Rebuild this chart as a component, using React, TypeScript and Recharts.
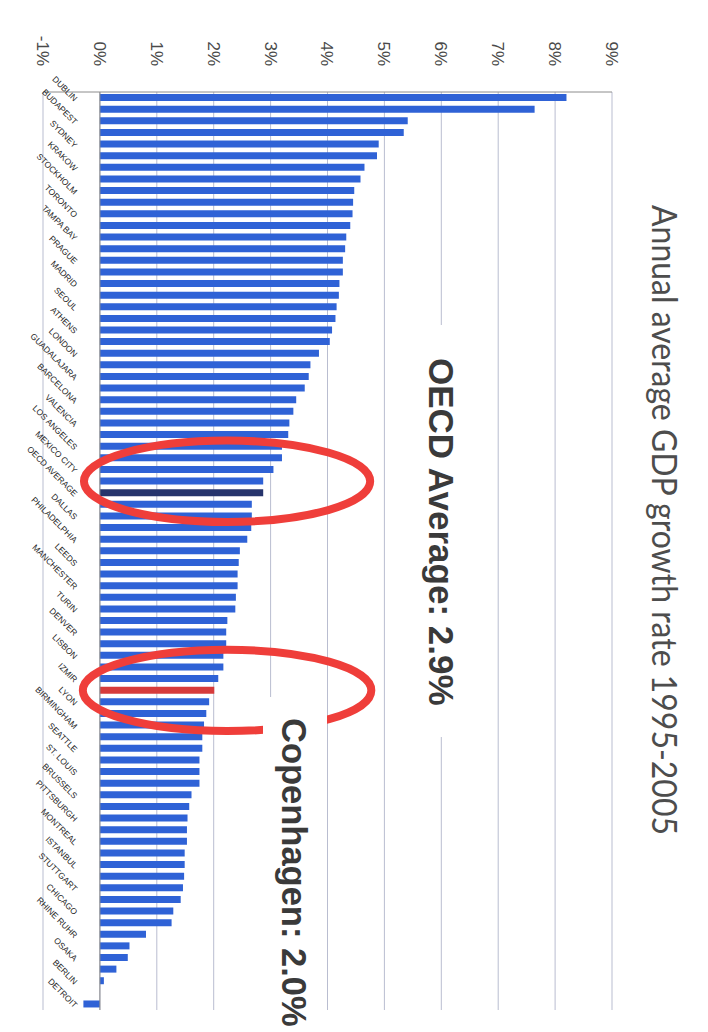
import React from "react";
import {
  BarChart,
  Bar,
  XAxis,
  YAxis,
  CartesianGrid,
  ReferenceLine,
  ReferenceArea,
  Cell,
} from "recharts";

// Tick labels shown on every other bar (as in the source chart)
const cityLabels = [
  "DUBLIN", "BUDAPEST", "SYDNEY", "KRAKOW", "STOCKHOLM", "TORONTO", "TAMPA BAY", "PRAGUE",
  "MADRID", "SEOUL", "ATHENS", "LONDON", "GUADALAJARA", "BARCELONA", "VALENCIA", "LOS ANGELES",
  "MEXICO CITY", "OECD AVERAGE", "DALLAS", "PHILADELPHIA", "LEEDS", "MANCHESTER", "TURIN", "DENVER",
  "LISBON", "IZMIR", "LYON", "BIRMINGHAM", "SEATTLE", "ST. LOUIS", "BRUSSELS", "PITTSBURGH",
  "MONTREAL", "ISTANBUL", "STUTTGART", "CHICAGO", "RHINE RUHR", "OSAKA", "BERLIN", "DETROIT",
];

// Annual average GDP growth rate 1995-2005 (%), one value per bar, in order
const growthRates = [
  8.2, 7.64, 5.41, 5.34, 4.9, 4.87, 4.65, 4.58, 4.47, 4.45,
  4.44, 4.4, 4.33, 4.31, 4.27, 4.27, 4.21, 4.2, 4.16, 4.14,
  4.08, 4.04, 3.85, 3.7, 3.67, 3.6, 3.45, 3.4, 3.33, 3.31,
  3.2, 3.2, 3.05, 2.87, 2.87, 2.67, 2.67, 2.66, 2.59, 2.46,
  2.44, 2.42, 2.42, 2.39, 2.38, 2.24, 2.22, 2.22, 2.17, 2.17,
  2.08, 2.01, 1.92, 1.87, 1.83, 1.8, 1.8, 1.75, 1.75, 1.75,
  1.61, 1.57, 1.54, 1.53, 1.53, 1.49, 1.49, 1.48, 1.46, 1.42,
  1.29, 1.26, 0.81, 0.52, 0.49, 0.29, 0.07, 0.0, -0.29,
];

const valueTicks = [-1, 0, 1, 2, 3, 4, 5, 6, 7, 8, 9];
const OECD_INDEX = 34;
const COPENHAGEN_INDEX = 51;

const titleText = "Annual average GDP growth rate 1995-2005";
const oecdNote = "OECD Average: 2.9%";
const copenhagenNote = "Copenhagen: 2.0%";

const data = growthRates.map((v, i) => ({
  id: i,
  growth: v,
  city: i % 2 === 0 ? cityLabels[i / 2] : "",
}));

const BLUE = "#2f62d6";
const NAVY = "#26346c";
const RED = "#d63b3b";
const RING = "#ef3e3a";

const CityTick = (props: any) => {
  const { x, y, payload } = props;
  const label = data[payload.value] ? data[payload.value].city : "";
  if (!label) return null;
  const ay = y - 33;
  return (
    <text
      x={x + 2}
      y={ay}
      dy={3}
      textAnchor="end"
      transform={`rotate(-45 ${x + 2} ${ay})`}
      fontSize={8.5}
      fill="#1e1e1e"
      fontFamily="'Liberation Sans', Arial, sans-serif"
    >
      {label}
    </text>
  );
};

const ellipseShape = (p: any) => (
  <ellipse
    cx={p.x + p.width / 2}
    cy={p.y + p.height / 2}
    rx={Math.abs(p.width) / 2}
    ry={Math.abs(p.height) / 2}
    fill="none"
    stroke={RING}
    strokeWidth={8}
  />
);

export default function App() {
  return (
    <div
      style={{
        position: "fixed",
        left: 0,
        top: 0,
        width: 708,
        height: 1032,
        overflow: "hidden",
        background: "#ffffff",
      }}
    >
      <div
        style={{
          position: "absolute",
          left: 0,
          top: 0,
          width: 1032,
          height: 708,
          transformOrigin: "0 0",
          transform: "translate(708px, 0px) rotate(90deg)",
        }}
      >
        <BarChart
          width={1032}
          height={708}
          data={data}
          margin={{ top: 96, right: 22, bottom: 0, left: 0 }}
          barCategoryGap="18%"
        >
          <CartesianGrid vertical={false} stroke="#b9bdd0" strokeWidth={1} />
          <XAxis
            dataKey="id"
            type="category"
            interval={0}
            tick={<CityTick />}
            tickLine={false}
            axisLine={false}
            tickSize={0}
            tickMargin={0}
            height={43}
          />
          <YAxis
            type="number"
            domain={[-1, 9]}
            ticks={valueTicks}
            interval={0}
            tickFormatter={(v: number) => `${v}%`}
            axisLine={{ stroke: "#8c8c8c" }}
            tickLine={false}
            tickSize={0}
            tickMargin={26}
            width={92}
            tick={{
              fontSize: 17,
              fill: "#4a4a4a",
              fontFamily: "'Liberation Sans', Arial, sans-serif",
            }}
          />
          <ReferenceLine y={0} stroke="#8c8c8c" />
          <Bar dataKey="growth" isAnimationActive={false}>
            {data.map((d, i) => (
              <Cell
                key={i}
                fill={i === OECD_INDEX ? NAVY : i === COPENHAGEN_INDEX ? RED : BLUE}
              />
            ))}
          </Bar>
          <ReferenceArea
            x1={30}
            x2={36}
            y1={-0.28}
            y2={4.75}
            shape={ellipseShape}
            ifOverflow="visible"
            zIndex={600}
          />
          <ReferenceArea
            x1={48}
            x2={54}
            y1={-0.3}
            y2={4.77}
            shape={ellipseShape}
            ifOverflow="visible"
            zIndex={600}
          />
        </BarChart>
        <svg
          width={1032}
          height={708}
          style={{ position: "absolute", left: 0, top: 0, pointerEvents: "none" }}
        >
          <text
            x={205}
            y={56}
            fontSize={34}
            fill="#4d4d4d"
            fontFamily="Lato, 'Open Sans', sans-serif"
            textLength={630}
            lengthAdjust="spacingAndGlyphs"
          >
            {titleText}
          </text>
          <rect x={325} y={226} width={412} height={84} fill="#ffffff" />
          <text
            x={358}
            y={279}
            fontSize={35}
            fontWeight="bold"
            fill="#3a3a3a"
            fontFamily="'Liberation Sans', Arial, sans-serif"
          >
            {oecdNote}
          </text>
          <rect x={697} y={381} width={340} height={64} fill="#ffffff" />
          <text
            x={718}
            y={426}
            fontSize={34.5}
            fontWeight="bold"
            fill="#3a3a3a"
            fontFamily="'Liberation Sans', Arial, sans-serif"
          >
            {copenhagenNote}
          </text>
        </svg>
      </div>
    </div>
  );
}
